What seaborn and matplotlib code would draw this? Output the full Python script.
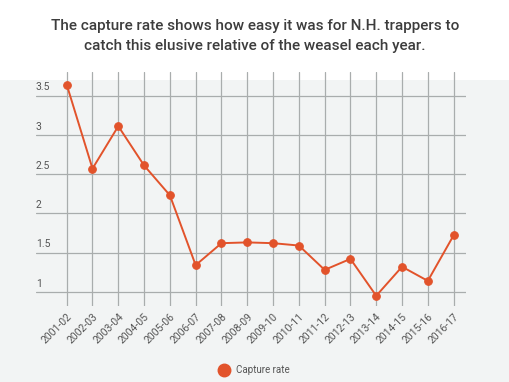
import numpy as np
import pandas as pd
import matplotlib
matplotlib.use('Agg')
import matplotlib.pyplot as plt
from matplotlib.lines import Line2D
from matplotlib.patches import Rectangle
import seaborn as sns

# data
seasons = ['2001-02', '2002-03', '2003-04', '2004-05', '2005-06', '2006-07',
           '2007-08', '2008-09', '2009-10', '2010-11', '2011-12', '2012-13',
           '2013-14', '2014-15', '2015-16', '2016-17']
capture_rate = [3.64, 2.57, 3.11, 2.61, 2.23, 1.34, 1.62, 1.63, 1.62, 1.59,
                1.28, 1.42, 0.95, 1.32, 1.14, 1.72]
y_ticks = [1, 1.5, 2, 2.5, 3, 3.5]
y_tick_labels = ['1', '1.5', '2', '2.5', '3', '3.5']

title = ('The capture rate shows how easy it was for N.H. trappers to\n'
         'catch this elusive relative of the weasel each year.')

sns.set_style('white')
plt.rcParams['font.family'] = ['Roboto', 'DejaVu Sans']

line_color = '#e2532b'
grid_color = '#a9adad'
text_color = '#555555'

df = pd.DataFrame({'pos': np.arange(len(seasons)), 'season': seasons, 'rate': capture_rate})

fig = plt.figure(figsize=(5.10, 3.82), dpi=100)
fig.patch.set_facecolor('white')
# grey panel behind the chart
fig.patches.append(Rectangle((0, 0), 1, (382 - 80) / 382, transform=fig.transFigure,
                             facecolor='#f2f4f4', edgecolor='none', zorder=-5))

ax = fig.add_axes([36 / 510, 1 - 306 / 382, (466 - 36) / 510, (306 - 72) / 382])
ax.set_facecolor('none')
ax.set_zorder(2)

sns.lineplot(data=df, x='pos', y='rate', ax=ax, color=line_color, linewidth=1.4,
             marker='o', markersize=5.5, markeredgecolor=line_color, zorder=3)

ax.set_xlim(-1.19, 15.48)
ax.set_ylim(0.82, 3.8)
ax.set_xticks(df['pos'])
ax.set_xticklabels(seasons, rotation=45, ha='right', rotation_mode='anchor',
                   fontsize=7.5, color=text_color)
ax.set_yticks(y_ticks)
ax.set_yticklabels([])
ax.tick_params(axis='both', length=0, pad=4)
ax.grid(True, color=grid_color, linewidth=0.9)
ax.set_axisbelow(True)
for s in ax.spines.values():
    s.set_visible(False)
ax.set_xlabel('')
ax.set_ylabel('')

# y labels sit inside the plot, above each gridline
for v, lab in zip(y_ticks, y_tick_labels):
    ax.text(0.0, v + 0.04, lab, transform=ax.get_yaxis_transform(),
            ha='left', va='bottom', fontsize=7.5, color=text_color)

fig.text(0.5, 1 - 36 / 382, title, ha='center', va='center', fontsize=11,
         fontweight='medium', color='#3d3d3d', linespacing=1.55)

handle = Line2D([], [], linestyle='none', marker='o', markersize=9,
                color=line_color, label='Capture rate')
fig.legend(handles=[handle], loc='center', bbox_to_anchor=(252 / 510, 1 - 370 / 382),
           frameon=False, fontsize=7, handletextpad=0.3, labelcolor=text_color)

fig.savefig('out.png', dpi=100)
